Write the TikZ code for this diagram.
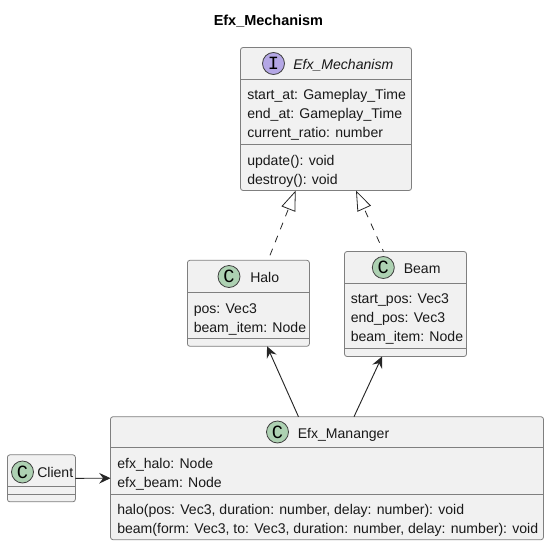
\documentclass[tikz,border=0pt]{standalone}
\usepackage{fontspec}
\setmainfont{Liberation Sans}
\setmonofont{Liberation Mono}
\usetikzlibrary{arrows.meta}
\definecolor{boxfill}{HTML}{F1F1F1}
\definecolor{boxline}{HTML}{7F7F7F}
\definecolor{spotc}{HTML}{ADD1B2}
\definecolor{spoti}{HTML}{B4A7E5}
\tikzset{
  umlbox/.style={draw=boxline,fill=boxfill,line width=0.6pt,rounded corners=1.9pt,inner sep=0pt,outer sep=0pt},
  divider/.style={boxline,line width=0.6pt},
  member/.style={font=\fontsize{10.55pt}{12pt}\selectfont,text=black!90,anchor=base west,inner sep=0pt},
  spot/.style={circle,draw=black!75,line width=0.6pt,minimum size=16.5pt,inner sep=0pt,font=\fontsize{14pt}{14pt}\selectfont\ttfamily},
  uses/.style={black!85,line width=0.7pt,-{Stealth[length=8.5pt,width=8pt,inset=3pt]}},
  realizes/.style={black!85,line width=0.6pt,dash pattern=on 5.25pt off 5.25pt,-{Triangle[open,fill=white,length=15pt,width=11pt]}}
}
\begin{document}
\begin{tikzpicture}[x=0.75pt,y=-0.75pt]
\useasboundingbox (0,0) rectangle (549,546);
\node[font=\fontsize{10.85pt}{12pt}\selectfont\bfseries,anchor=base west,inner sep=0pt] (title) at (213.5,26) {Efx\_Mechanism};

% interface
\node[umlbox,minimum width=128.25pt,minimum height=107.25pt] (mech) at (326,119) {};
\draw[divider] (240.5,79.5) -- (411.5,79.5);
\draw[divider] (240.5,144.5) -- (411.5,144.5);
\node[spot,fill=spoti] (mechspot) at (273.5,63.5) {I};
\node[member,font=\fontsize{10.55pt}{12pt}\selectfont\itshape] (mechname) at (293,69) {Efx\_Mechanism};
\node[member] (mechattra) at (247,99) {start\_at: Gameplay\_Time};
\node[member] (mechattrb) at (247,118) {end\_at: Gameplay\_Time};
\node[member] (mechattrc) at (247,137) {current\_ratio: number};
\node[member] (mechopa) at (247,165) {update(): void};
\node[member] (mechopb) at (247,184) {destroy(): void};

% halo
\node[umlbox,minimum width=91.5pt,minimum height=64.5pt] (halo) at (248.4,303.3) {};
\draw[divider] (187.5,292.5) -- (309.5,292.5);
\draw[divider] (187.5,338.5) -- (309.5,338.5);
\node[spot,fill=spotc] (halospot) at (229,276.5) {C};
\node[member] (haloname) at (250,282) {Halo};
\node[member] (haloattra) at (193.5,313) {pos: Vec3};
\node[member] (haloattrb) at (193.5,332) {beam\_item: Node};

% beam
\node[umlbox,minimum width=91.5pt,minimum height=78.75pt] (beam) at (405.5,304) {};
\draw[divider] (344.5,283.5) -- (466.5,283.5);
\draw[divider] (344.5,348.5) -- (466.5,348.5);
\node[spot,fill=spotc] (beamspot) at (383.3,267.5) {C};
\node[member] (beamname) at (403.5,273) {Beam};
\node[member] (beamattra) at (350.5,303) {start\_pos: Vec3};
\node[member] (beamattrb) at (350.5,322) {end\_pos: Vec3};
\node[member] (beamattrc) at (350.5,341) {beam\_item: Node};

% manager
\node[umlbox,minimum width=324.75pt,minimum height=92.25pt] (mgr) at (327,478.2) {};
\draw[divider] (110.5,447.5) -- (543.5,447.5);
\draw[divider] (110.5,494.5) -- (543.5,494.5);
\node[spot,fill=spotc] (mgrspot) at (277.5,432) {C};
\node[member] (mgrname) at (297.5,438) {Efx\_Mananger};
\node[member] (mgrattra) at (117,468) {efx\_halo: Node};
\node[member] (mgrattrb) at (117,487) {efx\_beam: Node};
\node[member] (mgropa) at (117,514) {halo(pos: Vec3, duration: number, delay: number): void};
\node[member] (mgropb) at (117,533) {beam(form: Vec3, to: Vec3, duration: number, delay: number): void};

% client
\node[umlbox,minimum width=51pt,minimum height=35.25pt] (client) at (41.4,478.3) {};
\draw[divider] (7.5,486.5) -- (75.5,486.5);
\draw[divider] (7.5,494.5) -- (75.5,494.5);
\node[spot,fill=spotc] (clientspot) at (22.5,472) {C};
\node[member] (clientname) at (37,477) {Client};

% connectors
\draw[realizes,dash phase=6.45pt] ([xshift=14.7pt]halo.north) -- ([xshift=-22.7pt]mech.south);
\draw[realizes,dash phase=3.25pt] ([xshift=-16.5pt]beam.north) -- ([xshift=22.5pt]mech.south);
\draw[uses] ([xshift=-21.4pt]mgr.north) -- ([xshift=14pt]halo.south);
\draw[uses] ([xshift=20.25pt]mgr.north) -- ([xshift=-17.6pt]beam.south);
\draw[uses] (client.east) -- (mgr.west);
\end{tikzpicture}
\end{document}
